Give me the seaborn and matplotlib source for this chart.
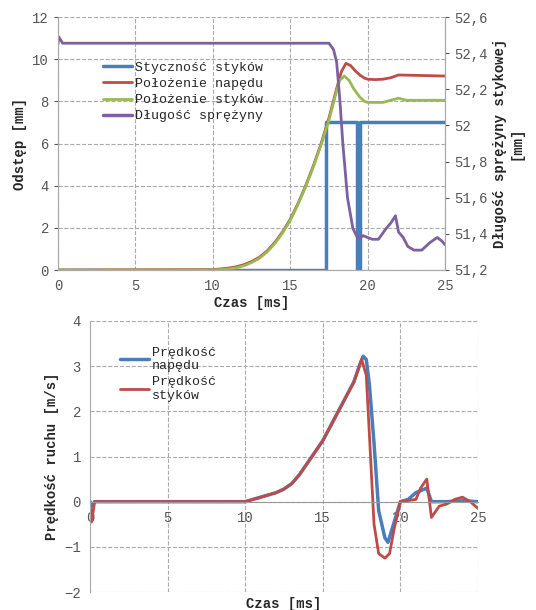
import numpy as np
import pandas as pd
import matplotlib
matplotlib.use('Agg')
import matplotlib.pyplot as plt
import seaborn as sns

# Top chart data
t_nap = [0, 10, 10.5, 11, 11.5, 12, 12.5, 13, 13.5, 14, 14.5, 15, 15.5, 16, 16.5, 17, 17.5, 18, 18.3, 18.6, 18.9, 19.2, 19.5, 19.8, 20, 20.5, 21, 21.5, 22, 25]
polozenie_napedu = [0, 0.02, 0.05, 0.09, 0.15, 0.25, 0.4, 0.6, 0.9, 1.3, 1.8, 2.4, 3.15, 4.0, 4.95, 6.0, 7.2, 8.6, 9.4, 9.8, 9.7, 9.45, 9.25, 9.1, 9.05, 9.03, 9.05, 9.12, 9.25, 9.2]
t_sty = [0, 10, 10.5, 11, 11.5, 12, 12.5, 13, 13.5, 14, 14.5, 15, 15.5, 16, 16.5, 17, 17.5, 18, 18.2, 18.5, 18.8, 19.1, 19.5, 19.8, 20, 21, 21.5, 22, 22.5, 24, 25]
polozenie_stykow = [0, 0.0, 0.02, 0.05, 0.1, 0.2, 0.35, 0.55, 0.85, 1.25, 1.75, 2.35, 3.1, 3.95, 4.9, 5.95, 7.1, 8.5, 9.0, 9.2, 9.0, 8.6, 8.2, 8.0, 7.95, 7.95, 8.05, 8.15, 8.05, 8.05, 8.05]
t_styc = [0, 17.3, 17.3, 19.3, 19.3, 19.5, 19.5, 25]
stycznosc = [0, 0, 7, 7, 0, 0, 7, 7]
t_spr = [0, 0.05, 0.3, 17.5, 17.8, 18.0, 18.2, 18.4, 18.7, 19.05, 19.4, 19.7, 20.3, 20.7, 21.2, 21.5, 21.8, 22.0, 22.3, 22.6, 23.0, 23.5, 24.0, 24.5, 24.8, 25]
dlugosc_sprezyny = [52.45, 52.49, 52.455, 52.455, 52.42, 52.35, 52.15, 51.9, 51.6, 51.43, 51.37, 51.39, 51.37, 51.37, 51.43, 51.46, 51.5, 51.41, 51.38, 51.33, 51.31, 51.31, 51.35, 51.38, 51.36, 51.34]

# Bottom chart data
t_v1 = [0, 0.1, 0.3, 10, 11, 12, 12.5, 13, 13.5, 14, 15, 16, 17, 17.4, 17.6, 17.8, 18.0, 18.3, 18.6, 19, 19.2, 19.6, 20, 20.5, 21, 21.7, 22, 23, 24, 25]
predkosc_napedu = [0, -0.1, 0, 0, 0.1, 0.2, 0.28, 0.4, 0.6, 0.85, 1.35, 2.0, 2.65, 3.05, 3.22, 3.15, 2.6, 1.3, -0.2, -0.8, -0.9, -0.45, 0.0, 0.05, 0.2, 0.3, 0, 0, 0.02, 0]
t_v2 = [0, 0.1, 0.3, 10, 11, 12, 12.5, 13, 13.5, 14, 15, 16, 17, 17.5, 17.8, 18.0, 18.3, 18.6, 19, 19.3, 19.6, 20, 21, 21.3, 21.7, 22, 22.5, 23, 23.5, 24, 24.5, 25]
predkosc_stykow = [0, -0.45, 0, 0, 0.1, 0.2, 0.28, 0.4, 0.6, 0.85, 1.35, 2.0, 2.65, 3.15, 2.8, 1.5, -0.5, -1.15, -1.25, -1.15, -0.6, 0, 0.05, 0.3, 0.5, -0.35, -0.1, -0.05, 0.05, 0.1, 0.0, -0.15]

sns.set_style('white')
plt.rcParams['font.family'] = ['Liberation Mono', 'DejaVu Sans Mono']
gray = '#555555'

fig = plt.figure(figsize=(5.36, 6.10), dpi=100)
ax1 = fig.add_axes([58/536, 1 - 270/610, 387/536, 253/610])
ax2 = ax1.twinx()
ax3 = fig.add_axes([90/536, 1 - 592/610, 388/536, 271/610])

blue, red, green, purple = '#4a7ebb', '#be4b48', '#98b954', '#7d60a0'
sns.lineplot(x=t_styc, y=stycznosc, ax=ax1, color=blue, lw=2.5, label='Styczność styków', estimator=None, sort=False)
sns.lineplot(x=t_nap, y=polozenie_napedu, ax=ax1, color=red, lw=2, label='Położenie napędu', estimator=None)
sns.lineplot(x=t_sty, y=polozenie_stykow, ax=ax1, color=green, lw=2, label='Położenie styków', estimator=None)
sns.lineplot(x=t_spr, y=dlugosc_sprezyny, ax=ax2, color=purple, lw=2, estimator=None, legend=False)
ax1.plot([], [], color=purple, lw=2.5, label='Długość sprężyny')

ax1.set_xlim(0, 25); ax1.set_ylim(0, 12)
ax2.set_ylim(51.2, 52.6)
ax1.set_xticks(range(0, 26, 5)); ax1.set_yticks(range(0, 13, 2))
ax2.set_yticks(np.arange(51.2, 52.61, 0.2))
ax2.set_yticklabels([f'{v:.1f}'.replace('.', ',').replace(',0', '') for v in np.arange(51.2, 52.61, 0.2)])
ax1.grid(True, ls='--', color='#aaaaaa', lw=0.8)
ax1.set_xlabel('Czas [ms]', fontweight='bold', fontsize=10, labelpad=2)
ax1.set_ylabel('Odstęp [mm]', fontweight='bold', fontsize=10)
ax2.set_ylabel('Długość sprężyny stykowej\n[mm]', fontweight='bold', fontsize=10, rotation=90)
leg = ax1.legend(loc='upper left', bbox_to_anchor=(0.1, 0.85), frameon=False, fontsize=9.5, handlelength=2.2, labelspacing=0.3, borderpad=0, handletextpad=0.2)
for ax in (ax1, ax2):
    ax.spines['top'].set_visible(False)
    for s in ('left', 'right', 'bottom'):
        ax.spines[s].set_color('#aaaaaa')
    ax.tick_params(colors=gray, labelsize=10, length=3)

sns.lineplot(x=t_v1, y=predkosc_napedu, ax=ax3, color=blue, lw=2.5, label='Prędkość\nnapędu', estimator=None)
sns.lineplot(x=t_v2, y=predkosc_stykow, ax=ax3, color=red, lw=2, label='Prędkość\nstyków', estimator=None)
ax3.set_xlim(0, 25); ax3.set_ylim(-2, 4)
ax3.set_xticks(range(0, 26, 5))
ax3.grid(True, ls='--', color='#aaaaaa', lw=0.8)
ax3.spines['bottom'].set_position(('data', 0))
ax3.spines['bottom'].set_color('#999999')
ax3.spines['left'].set_color('#aaaaaa')
for s in ('top', 'right'):
    ax3.spines[s].set_visible(False)
ax3.tick_params(colors=gray, labelsize=10, length=3)
ax3.set_xlabel('')
fig.text((90 + 194) / 536, 1 - 604/610, 'Czas [ms]', ha='center', va='center', fontweight='bold', fontsize=10)
ax3.set_ylabel('Prędkość ruchu [m/s]', fontweight='bold', fontsize=10)
ax3.legend(loc='upper left', bbox_to_anchor=(0.06, 0.93), frameon=False, fontsize=9.5, handlelength=2.2, labelspacing=0.3, borderpad=0, handletextpad=0.2)

fig.savefig('out.png', dpi=100)
